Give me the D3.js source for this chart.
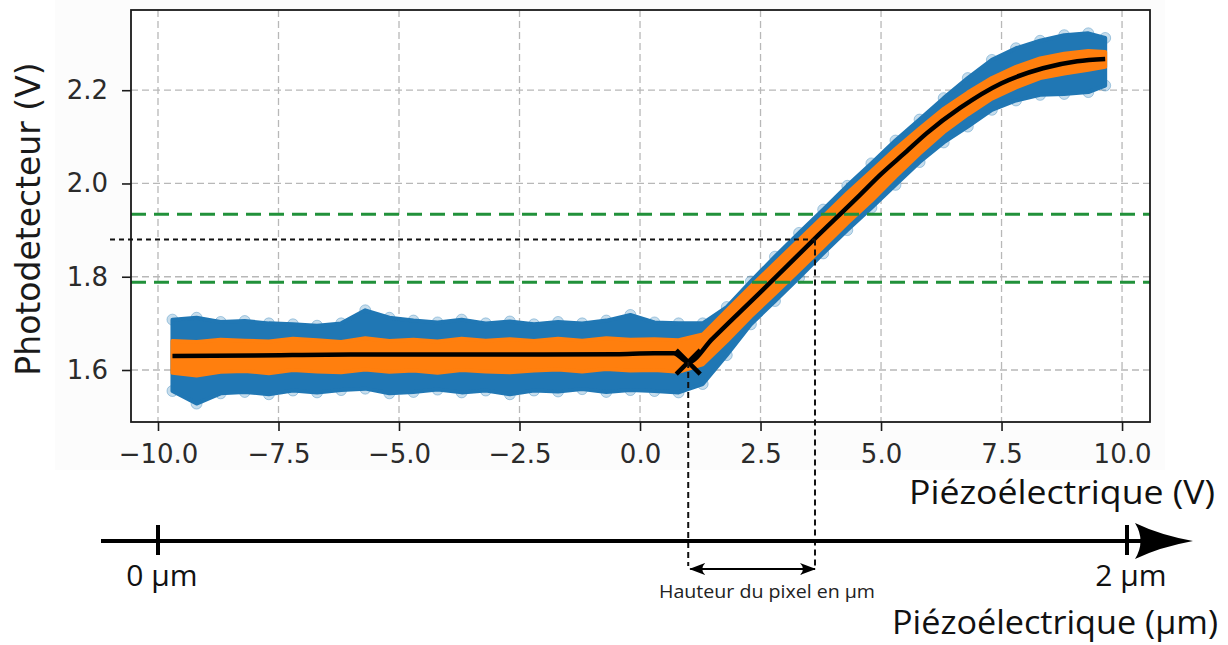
<!DOCTYPE html>
<html><head><meta charset="utf-8">
<script src="https://cdn.jsdelivr.net/npm/d3@7"></script>
<style>body{margin:0;background:#fff}svg{display:block}</style>
</head><body><svg id="c" width="1228" height="645"></svg>
<script>
// ---- data ----
const sampleX = [-9.7,-9.2,-8.7,-8.2,-7.7,-7.2,-6.7,-6.2,-5.7,-5.2,-4.7,-4.2,-3.7,-3.2,-2.7,-2.2,-1.7,-1.2,-0.7,-0.2,0.3,0.8,1.3,1.8,2.3,2.8,3.3,3.8,4.3,4.8,5.3,5.8,6.3,6.8,7.3,7.8,8.3,8.8,9.3,9.65];
const blueUpper = [1.708,1.712,1.703,1.705,1.700,1.698,1.695,1.700,1.728,1.712,1.706,1.702,1.708,1.700,1.704,1.698,1.703,1.700,1.706,1.718,1.702,1.700,1.700,1.735,1.790,1.843,1.894,1.944,1.995,2.043,2.092,2.137,2.183,2.226,2.265,2.290,2.306,2.318,2.322,2.312];
const blueLower = [1.555,1.528,1.550,1.553,1.548,1.556,1.552,1.557,1.560,1.550,1.553,1.558,1.552,1.556,1.548,1.556,1.554,1.559,1.553,1.557,1.555,1.552,1.570,1.632,1.698,1.748,1.798,1.850,1.900,1.948,1.997,2.046,2.088,2.122,2.158,2.178,2.190,2.192,2.196,2.210];
const orangeUpper = [1.662,1.660,1.665,1.663,1.661,1.667,1.664,1.660,1.668,1.662,1.665,1.661,1.667,1.663,1.666,1.662,1.667,1.663,1.668,1.665,1.666,1.664,1.676,1.728,1.779,1.829,1.879,1.929,1.979,2.026,2.074,2.118,2.160,2.195,2.226,2.250,2.268,2.278,2.284,2.282];
const orangeLower = [1.594,1.588,1.596,1.598,1.593,1.600,1.597,1.595,1.601,1.596,1.599,1.594,1.600,1.597,1.595,1.599,1.601,1.597,1.602,1.599,1.600,1.596,1.612,1.662,1.715,1.764,1.814,1.864,1.915,1.963,2.015,2.064,2.110,2.148,2.182,2.206,2.226,2.236,2.244,2.250];
const fitX = [-9.7,-8,-6,-4,-2,-0.5,0.3,0.7,1.0,1.5,2.5,3.6,4.56,5.0,5.5,5.95,6.64,7.5,8.36,9.07,9.65];
const fitY = [1.630,1.631,1.633,1.633,1.633,1.634,1.636,1.636,1.617,1.667,1.767,1.879,1.975,2.020,2.066,2.108,2.162,2.215,2.247,2.262,2.267];
const markerPoint = [1.0, 1.617];
const greenLevels = [1.788, 1.934];
const refLevel = 1.880;
const refX = 3.63;
const xTicks = [-10,-7.5,-5,-2.5,0,2.5,5,7.5,10];
const yTicks = [1.6,1.8,2.0,2.2];
const umTicks = [0,2];
const umLabels = ["0 µm","2 µm"];

// ---- layout ----
const svg = d3.select("#c");
const L = 131, R = 1150, T = 10, B = 422;
const x = d3.scaleLinear().domain([-10.56, 10.58]).range([L, R]);
const y = d3.scaleLinear().domain([1.4885, 2.372]).range([B, T]);
const um = d3.scaleLinear().domain([0, 2]).range([158, 1127]);

svg.append("rect").attr("x",55).attr("y",0).attr("width",1110).attr("height",470).attr("fill","#fcfcfc");
svg.append("rect").attr("x",L).attr("y",T).attr("width",R-L).attr("height",B-T).attr("fill","#fff");

// grid
const grid = svg.append("g").attr("stroke","#b8b8b8").attr("stroke-width",1.3).attr("stroke-dasharray","7,4");
grid.selectAll(".gx").data(xTicks).join("line").attr("x1",d=>x(d)).attr("x2",d=>x(d)).attr("y1",T).attr("y2",B);
grid.selectAll(".gy").data(yTicks).join("line").attr("y1",d=>y(d)).attr("y2",d=>y(d)).attr("x1",L).attr("x2",R);

const pts = sampleX.map((v,i)=>({x:v, bu:blueUpper[i], bl:blueLower[i], ou:orangeUpper[i], ol:orangeLower[i]}));
const plot = svg.append("g");

// blue scatter cloud
plot.selectAll(".bc").data(pts.flatMap(d=>[[d.x,d.bu],[d.x,d.bl]])).join("circle")
  .attr("cx",d=>x(d[0])).attr("cy",d=>y(d[1])).attr("r",5.5)
  .attr("fill","#1f77b4").attr("fill-opacity",0.25).attr("stroke","#1f77b4").attr("stroke-opacity",0.35);
plot.append("path").datum(pts)
  .attr("d", d3.area().x(d=>x(d.x)).y0(d=>y(d.bl)).y1(d=>y(d.bu)).curve(d3.curveLinear))
  .attr("fill","#2077b4").attr("stroke","#2077b4").attr("stroke-width",4).attr("stroke-linejoin","round");

// orange smoothed cloud
plot.append("path").datum(pts)
  .attr("d", d3.area().x(d=>x(d.x)).y0(d=>y(d.ol)).y1(d=>y(d.ou)).curve(d3.curveLinear))
  .attr("fill","#ff7f0e").attr("stroke","#ff7f0e").attr("stroke-width",4).attr("stroke-linejoin","round");

// green threshold lines
svg.selectAll(".green").data(greenLevels).join("line")
  .attr("x1",L).attr("x2",R).attr("y1",d=>y(d)).attr("y2",d=>y(d))
  .attr("stroke","#21913a").attr("stroke-width",3).attr("stroke-dasharray","15,8");

// fit line
const fit = fitX.map((v,i)=>[v, fitY[i]]);
svg.append("path").datum(fit)
  .attr("d", d3.line().x(d=>x(d[0])).y(d=>y(d[1])).curve(d3.curveMonotoneX))
  .attr("fill","none").attr("stroke","#000").attr("stroke-width",4.5).attr("stroke-linejoin","round");

// X marker
const mx = x(markerPoint[0]), my = y(markerPoint[1]);
svg.append("path").attr("d",`M${mx-12},${my-12}L${mx+12},${my+12}M${mx-12},${my+12}L${mx+12},${my-12}`)
  .attr("stroke","#000").attr("stroke-width",4.5);

// frame
svg.append("rect").attr("x",L).attr("y",T).attr("width",R-L).attr("height",B-T)
  .attr("fill","none").attr("stroke","#1a1a1a").attr("stroke-width",1.8);

// axes
const xAxis = svg.append("g").attr("transform",`translate(0,${B})`)
  .call(d3.axisBottom(x).tickValues(xTicks).tickFormat(d3.format(".1f")).tickSize(9).tickPadding(14));
const yAxis = svg.append("g").attr("transform",`translate(${L},0)`)
  .call(d3.axisLeft(y).tickValues(yTicks).tickFormat(d3.format(".1f")).tickSize(9).tickPadding(14));
[xAxis,yAxis].forEach(a=>{
  a.select(".domain").remove();
  a.selectAll(".tick line").attr("stroke","#1a1a1a").attr("stroke-width",1.6);
  a.selectAll(".tick text").attr("font-family","DejaVu Sans").attr("font-size",26).attr("fill","#2b2b2b");
});

// y label
svg.append("text").attr("transform","translate(40,219) rotate(-90)")
  .attr("text-anchor","middle").attr("font-family","DejaVu Sans").attr("font-size",33).attr("fill","#1a1a1a")
  .text("Photodetecteur (V)");

// reference dotted lines
const dash = svg.append("g").attr("stroke","#111").attr("stroke-width",2).attr("fill","none");
dash.append("line").attr("x1",110).attr("x2",x(refX)).attr("y1",y(refLevel)).attr("y2",y(refLevel)).attr("stroke-dasharray","5,4");
dash.append("line").attr("x1",mx).attr("x2",mx).attr("y1",my).attr("y2",566).attr("stroke-dasharray","6,4");
dash.append("line").attr("x1",x(refX)).attr("x2",x(refX)).attr("y1",y(refLevel)).attr("y2",566).attr("stroke-dasharray","6,4");

// µm axis
const axY = 541;
svg.append("line").attr("x1",101).attr("x2",1160).attr("y1",axY).attr("y2",axY).attr("stroke","#000").attr("stroke-width",4);
svg.append("path").attr("d",`M1193,${axY} Q1160,${axY-6} 1135,${axY-18} Q1146,${axY} 1135,${axY+18} Q1160,${axY+6} 1193,${axY}Z`).attr("fill","#000");
svg.selectAll(".umt").data(umTicks).join("line")
  .attr("x1",d=>um(d)).attr("x2",d=>um(d)).attr("y1",axY-16).attr("y2",axY+14)
  .attr("stroke","#000").attr("stroke-width",4);
svg.selectAll(".uml").data(umTicks).join("text")
  .attr("x",d=>um(d)+4).attr("y",586).attr("text-anchor","middle")
  .attr("font-family","Open Sans").attr("font-size",30).attr("fill","#111")
  .text((d,i)=>umLabels[i]);

// double arrow (pixel height)
const defs = svg.append("defs");
defs.append("marker").attr("id","ah").attr("viewBox","0 0 16 12").attr("refX",15).attr("refY",6)
  .attr("markerWidth",16).attr("markerHeight",12).attr("markerUnits","userSpaceOnUse").attr("orient","auto-start-reverse")
  .append("path").attr("d","M0,0 Q6,6 0,12 L16,6Z").attr("fill","#000");
svg.append("line").attr("x1",mx+2).attr("x2",x(refX)).attr("y1",569).attr("y2",569)
  .attr("stroke","#000").attr("stroke-width",2).attr("marker-start","url(#ah)").attr("marker-end","url(#ah)");
svg.append("text").attr("x",767).attr("y",598).attr("text-anchor","middle")
  .attr("font-family","Open Sans").attr("font-size",18).attr("fill","#222")
  .attr("textLength",216).attr("lengthAdjust","spacingAndGlyphs")
  .text("Hauteur du pixel en µm");

// axis titles
svg.append("text").attr("x",1215).attr("y",504).attr("text-anchor","end")
  .attr("font-family","Open Sans").attr("font-size",32).attr("fill","#111")
  .attr("textLength",306).attr("lengthAdjust","spacingAndGlyphs")
  .text("Piézoélectrique (V)");
svg.append("text").attr("x",1218).attr("y",634).attr("text-anchor","end")
  .attr("font-family","Open Sans").attr("font-size",33).attr("fill","#111")
  .attr("textLength",326).attr("lengthAdjust","spacingAndGlyphs")
  .text("Piézoélectrique (µm)");
</script></body></html>
